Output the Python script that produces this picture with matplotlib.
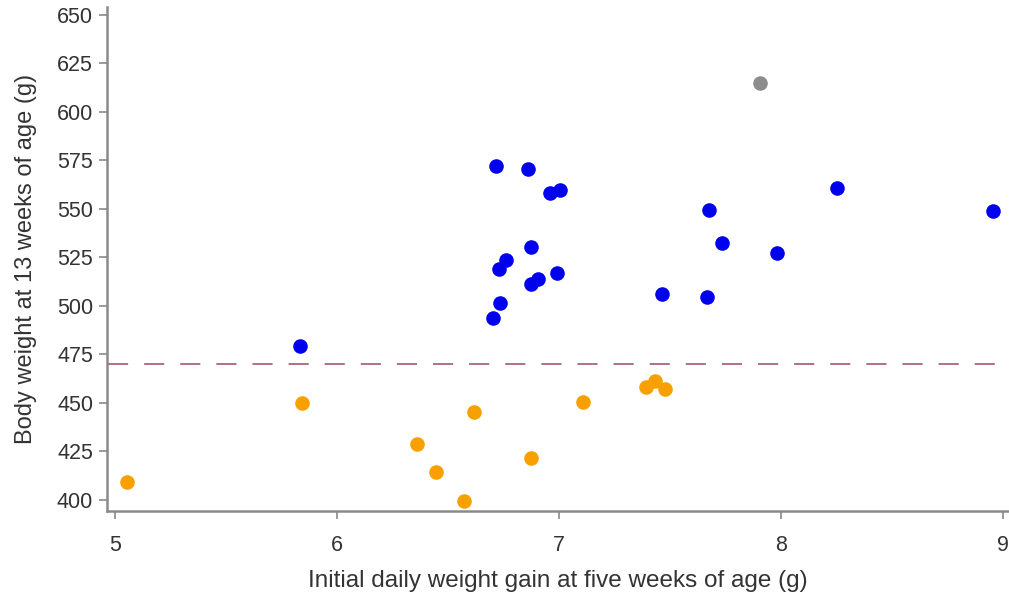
import matplotlib
matplotlib.use("Agg")
import matplotlib.pyplot as plt

plt.rcParams['font.family'] = ['Liberation Sans', 'DejaVu Sans']

# Data
blue_x = [5.833, 6.716, 6.860, 6.959, 7.005, 6.874, 6.761, 6.730, 6.905, 6.874,
          6.991, 6.734, 6.703, 7.464, 8.252, 7.676, 7.734, 7.982, 7.667, 8.955]
blue_y = [479.4, 572.2, 570.6, 558.2, 559.8, 530.4, 523.7, 519.1, 513.9, 511.3,
          517.0, 501.5, 493.8, 506.2, 560.8, 549.5, 532.5, 527.3, 504.6, 549.0]
orange_x = [5.054, 5.842, 6.360, 6.446, 6.572, 6.617, 6.874, 7.108, 7.392, 7.432, 7.477]
orange_y = [409.3, 450.0, 428.9, 414.4, 399.5, 445.4, 421.6, 450.5, 458.2, 461.3, 457.2]
gray_x = [7.905]
gray_y = [614.9]
threshold = 470
x_ticks = [5, 6, 7, 8, 9]
y_ticks = [400, 425, 450, 475, 500, 525, 550, 575, 600, 625, 650]

fig = plt.figure(figsize=(10.09, 6.0), dpi=100)
ax = fig.add_axes([0.106, 0.1483, 0.894, 0.84])

ms = 110
ax.scatter(blue_x, blue_y, s=ms, color="#0000ee", linewidths=0, zorder=3)
ax.scatter(orange_x, orange_y, s=ms, color="#f7a000", linewidths=0, zorder=3)
ax.scatter(gray_x, gray_y, s=ms, color="#8c8c8c", linewidths=0, zorder=3)

lw = 1.4
ax.axhline(threshold, xmin=0.0015, xmax=1.0, color="#b07080", lw=lw,
           linestyle=(0, (14.5 / lw, 11.5 / lw)), zorder=2)

ax.set_xlim(4.964, 9.027)
ax.set_ylim(394.3, 654.1)
ax.set_xticks(x_ticks)
ax.set_yticks(y_ticks)

for side in ["top", "right"]:
    ax.spines[side].set_visible(False)
for side in ["left", "bottom"]:
    ax.spines[side].set_color("#8a8a8a")
    ax.spines[side].set_linewidth(1.8)

ax.tick_params(axis="both", colors="#8a8a8a", labelcolor="#333333",
               labelsize=15.5, length=6, width=1.2, direction="out")
ax.tick_params(axis="x", pad=11)
ax.tick_params(axis="y", pad=4)

ax.set_xlabel("Initial daily weight gain at five weeks of age (g)",
              fontsize=17.5, color="#333333", labelpad=10)
ax.set_ylabel("Body weight at 13 weeks of age (g)",
              fontsize=17, color="#333333", labelpad=14)

fig.savefig("out.png", dpi=100)
